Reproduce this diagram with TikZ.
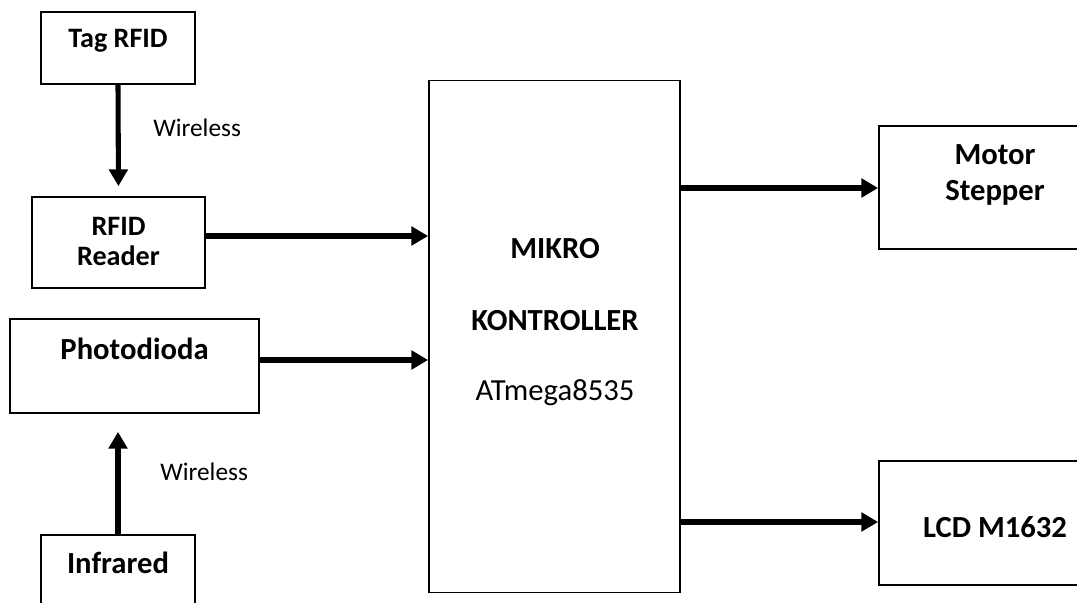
\documentclass[tikz,border=0pt]{standalone}
\usepackage{fontspec}
\setmainfont{Carlito}
\usepackage{tikz}
\usetikzlibrary{arrows.meta,calc,positioning}
\newcommand{\blockfont}{\fontsize{20}{21.5}\selectfont\bfseries}
\newcommand{\bigblockfont}{\fontsize{21.8}{25.6}\selectfont\bfseries}
\newcommand{\notefont}{\fontsize{18}{20}\selectfont}
\tikzset{
  block/.style={
    rectangle,
    draw=black,
    line width=1.2pt,
    fill=white,
    inner sep=0pt
  },
  blocktext/.style={
    inner sep=0pt,
    align=center,
    font=\blockfont
  },
  bigtext/.style={
    blocktext,
    font=\bigblockfont
  },
  note/.style={
    inner sep=0pt,
    font=\notefont
  },
  connection/.style={
    line width=3.6pt,
    -{Triangle[length=0.42cm,width=0.46cm]}
  }
}

\begin{document}
\begin{tikzpicture}[x=0.025cm, y=-0.025cm]
  % Fix the page to the reference frame; right and bottom blocks run off it
  \useasboundingbox (0,0) rectangle (1077,603);
  \clip (0,0) rectangle (1077,603);

  % Input side
  \node[block, minimum width=3.85cm, minimum height=1.8cm] (tag) at (118,48) {};
  \node[blocktext, anchor=base] (tag-txt) at (118,48) {Tag RFID};

  \node[block, minimum width=4.325cm, minimum height=2.275cm] (reader) at (118.5,242.5) {};
  \node[blocktext, anchor=north] (reader-txt) at (118.5,217) {RFID\\Reader};

  \node[block, minimum width=6.225cm, minimum height=2.35cm] (photo) at (134.5,366) {};
  \node[bigtext, anchor=base] (photo-txt) at (134.5,359) {Photodioda};

  \node[block, minimum width=3.85cm, minimum height=2.75cm] (infrared) at (118,590) {};
  \node[bigtext, anchor=base] (infrared-txt) at (118,573) {Infrared};

  \node[note, anchor=base west] (wl-top) at (153,137) {Wireless};
  \node[note, anchor=base west] (wl-bot) at (160,480) {Wireless};

  % Microcontroller
  \node[block, minimum width=6.275cm, minimum height=12.8cm] (mikro) at (554.5,336.5) {};
  \node[bigtext, anchor=base] (mikro-txt1) at (555,259) {MIKRO};
  \node[bigtext, anchor=base] (mikro-txt2) at (555,330) {KONTROLLER};
  \node[bigtext, anchor=base, font=\fontsize{21.8}{25.6}\selectfont] (mikro-txt3) at (555,400) {ATmega8535};

  % Output side
  \node[block, minimum width=5.8cm, minimum height=3.075cm] (motor) at (995,187.5) {};
  \node[bigtext, anchor=north] (motor-txt) at (995,144) {Motor\\Stepper};

  \node[block, minimum width=5.8cm, minimum height=3.1cm] (lcd) at (995,523) {};
  \node[bigtext, anchor=base] (lcd-txt) at (995,537) {LCD M1632};

  \draw[connection, shorten >=0.25cm] (tag.south) -- (reader.north);
  \draw[connection, shorten >=0.45cm] (infrared.north) -- (infrared.north |- photo.south);
  \draw[connection] (reader.east |- 0,236) -- (mikro.west |- 0,236);
  \draw[connection] (photo.east |- 0,360) -- (mikro.west |- 0,360);
  \draw[connection] (mikro.east |- 0,188) -- (motor.west |- 0,188);
  \draw[connection] (mikro.east |- 0,522) -- (lcd.west |- 0,522);
\end{tikzpicture}
\end{document}
